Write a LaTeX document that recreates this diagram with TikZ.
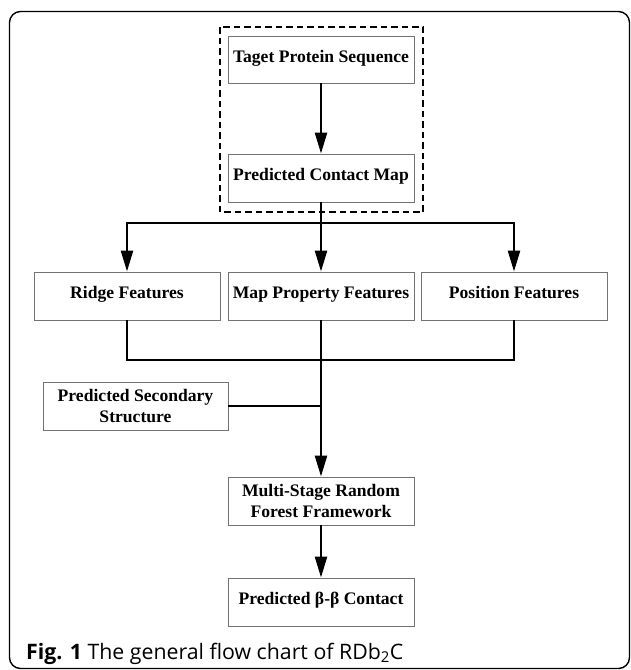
\documentclass[tikz,border=0pt]{standalone}
\usepackage{fontspec}
\setmainfont{Liberation Serif}
\newfontfamily\capfont{Open Sans}
\usetikzlibrary{arrows.meta}

\begin{document}
\begin{tikzpicture}[x=1pt,y=-1pt,
	box/.style={draw=black!55,line width=0.9pt,minimum width=186pt,minimum height=48pt,align=center,font=\bfseries\fontsize{17.6}{20.5}\selectfont},
	onerow/.style={box,text height=0.72em,text depth=0.22em},
	flow/.style={line width=2.4pt,-{Triangle[width=12pt,length=21pt]}},
	link/.style={line width=2.4pt}]
	\useasboundingbox (0,0) rectangle (630,670);
	\draw[line width=1.4pt,rounded corners=11pt] (9.5,11.5) rectangle (629.5,668.5);
	\draw[dashed,line width=1.1pt,dash pattern=on 6.5pt off 4pt] (220,27) rectangle (423,212);
	\node[onerow,minimum height=47pt] (target) at (321,59.5) {Taget Protein Sequence};
	\node[onerow] (cmap) at (321,178) {Predicted Contact Map};
	\node[onerow] (ridge) at (127,296) {Ridge Features};
	\node[onerow] (mapprop) at (321,296) {Map Property Features};
	\node[onerow] (pos) at (514,296) {Position Features};
	\node[box,minimum width=185pt] (sec) at (135.5,406) {Predicted Secondary\\Structure};
	\node[box] (forest) at (321,501) {Multi-Stage Random\\Forest Framework};
	\node[onerow] (bb) at (321,602) {Predicted β-β Contact};
	\node[anchor=base west,inner sep=0pt,font=\capfont\fontsize{21.3}{24}\selectfont] (cap) at (26,659) {\textbf{Fig. 1} The general flow chart of RDb\textsubscript{2}C};
	\coordinate (split) at (321,223);
	\coordinate (join) at (321,360);
	\draw[flow](target)--(cmap);
	\draw[link](cmap)--(split);
	\draw[flow](split)-|(ridge);
	\draw[flow](split)--(mapprop);
	\draw[flow](split)-|(pos);
	\draw[link](ridge)|-(join);
	\draw[link](pos)|-(join);
	\draw[link](mapprop)--(join);
	\draw[link](sec.east)--(sec.east-|join);
	\draw[flow](join)--(forest);
	\draw[flow](forest)--(bb);
\end{tikzpicture}
\end{document}
